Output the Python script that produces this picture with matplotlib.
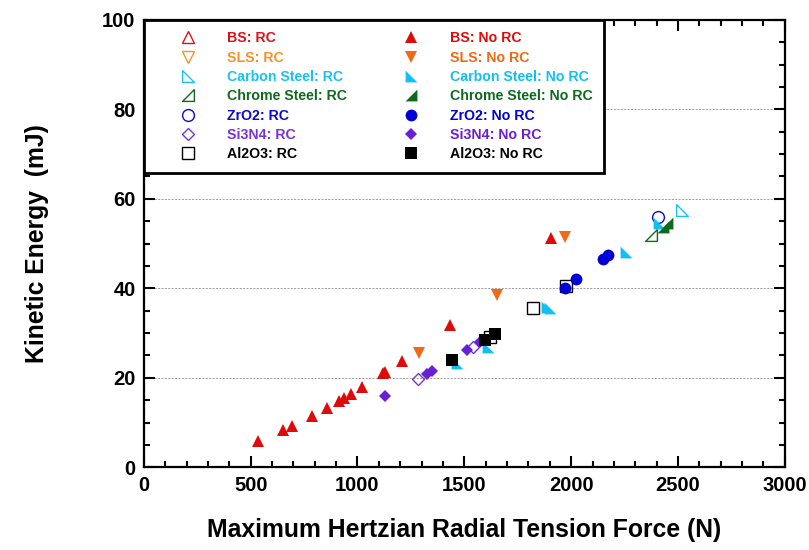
"""Kinetic energy vs. maximum Hertzian radial tension force, per ball material."""

import matplotlib

matplotlib.use("Agg")
import matplotlib.pyplot as plt
from matplotlib.lines import Line2D
from matplotlib.ticker import MultipleLocator

plt.rcParams["font.family"] = ["Liberation Sans", "DejaVu Sans"]
plt.rcParams["font.weight"] = "bold"

# ---- data ----
bs_rc_x, bs_rc_y = [], []
bs_norc_x = [535, 653, 693, 789, 856, 913, 937, 968, 1022, 1118, 1128, 1208, 1434, 1904]
bs_norc_y = [5.9, 8.3, 9.3, 11.5, 13.3, 14.8, 15.4, 16.4, 17.9, 21.0, 21.2, 23.8, 31.8, 51.2]

sls_rc_x, sls_rc_y = [], []
sls_norc_x = [1288, 1654, 1972]
sls_norc_y = [25.6, 38.5, 51.5]

carbon_rc_x = [2517]
carbon_rc_y = [57.5]
carbon_norc_x = [1464, 1612, 1885, 1901, 2259, 2412]
carbon_norc_y = [23.2, 26.9, 35.8, 35.5, 48.0, 54.5]

chrome_rc_x = [2373]
chrome_rc_y = [51.9]
chrome_norc_x = [2428, 2448]
chrome_norc_y = [53.8, 54.6]

zro2_rc_x = [2405]
zro2_rc_y = [56.0]
zro2_norc_x = [1972, 2025, 2147, 2174]
zro2_norc_y = [40.1, 42.0, 46.5, 47.4]

si3n4_rc_x = [1285, 1542]
si3n4_rc_y = [19.7, 26.8]
si3n4_norc_x = [1130, 1324, 1347, 1511, 1573]
si3n4_norc_y = [15.9, 20.8, 21.5, 26.1, 28.1]

al2o3_rc_x = [1620, 1823, 1975]
al2o3_rc_y = [29.1, 35.5, 40.5]
al2o3_norc_x = [1444, 1597, 1643]
al2o3_norc_y = [24.0, 28.4, 29.8]

# right-angle triangles used by the two steels
carbon_marker = [(-1, 1), (-1, -1), (1, -1), (-1, 1)]
chrome_marker = [(1, 1), (1, -1), (-1, -1), (1, 1)]

# (label, x, y, marker, color, size, filled)
rc_series = [
    ("BS: RC", bs_rc_x, bs_rc_y, "^", "#e0101a", 8.5, False),
    ("SLS: RC", sls_rc_x, sls_rc_y, "v", "#f8922c", 8.5, False),
    ("Carbon Steel: RC", carbon_rc_x, carbon_rc_y, carbon_marker, "#18c2f2", 8.5, False),
    ("Chrome Steel: RC", chrome_rc_x, chrome_rc_y, chrome_marker, "#12681e", 8.5, False),
    ("ZrO2: RC", zro2_rc_x, zro2_rc_y, "o", "#0a0ad2", 8.5, False),
    ("Si3N4: RC", si3n4_rc_x, si3n4_rc_y, "D", "#7a32dc", 6.5, False),
    ("Al2O3: RC", al2o3_rc_x, al2o3_rc_y, "s", "#000000", 8.2, False),
]
norc_series = [
    ("BS: No RC", bs_norc_x, bs_norc_y, "^", "#e00a0a", 8.5, True),
    ("SLS: No RC", sls_norc_x, sls_norc_y, "v", "#f26814", 8.5, True),
    ("Carbon Steel: No RC", carbon_norc_x, carbon_norc_y, carbon_marker, "#10c0f2", 8.5, True),
    ("Chrome Steel: No RC", chrome_norc_x, chrome_norc_y, chrome_marker, "#0c6a1c", 8.5, True),
    ("ZrO2: No RC", zro2_norc_x, zro2_norc_y, "o", "#0000d6", 8.5, True),
    ("Si3N4: No RC", si3n4_norc_x, si3n4_norc_y, "D", "#6a1fd6", 6.5, True),
    ("Al2O3: No RC", al2o3_norc_x, al2o3_norc_y, "s", "#000000", 8.2, True),
]

fig = plt.figure(figsize=(8.09, 5.5), dpi=100)
ax = fig.add_axes([0.1778, 0.1504, 0.7923, 0.8136])

handles = []
colors = []
for label, xs, ys, marker, color, ms, filled in rc_series + norc_series:
    style = dict(
        marker=marker,
        linestyle="none",
        markersize=ms,
        markeredgecolor=color,
        markerfacecolor=color if filled else "none",
        markeredgewidth=0 if filled else 1.0,
    )
    ax.plot(xs, ys, zorder=3, **style)
    handles.append(Line2D([], [], label=label, **style))
    colors.append(color)

ax.set_xlim(0, 3000)
ax.set_ylim(0, 100)
ax.xaxis.set_major_locator(MultipleLocator(500))
ax.xaxis.set_minor_locator(MultipleLocator(100))
ax.yaxis.set_major_locator(MultipleLocator(20))
ax.yaxis.set_minor_locator(MultipleLocator(5))
ax.tick_params(which="both", direction="in", top=True, right=True, width=1.5)
ax.tick_params(which="major", length=8, labelsize=14.5, pad=6)
ax.tick_params(which="minor", length=4)
for spine in ax.spines.values():
    spine.set_linewidth(1.6)

ax.yaxis.grid(True, which="major", color="#9a9a9a", linestyle=(0, (2, 1.5)), linewidth=0.7)
ax.set_axisbelow(True)

ax.set_xlabel("Maximum Hertzian Radial Tension Force (N)", fontsize=17.8,
              fontweight="bold", labelpad=17)
ax.set_ylabel("Kinetic Energy  (mJ)", fontsize=17.8, fontweight="bold", labelpad=38)

leg = ax.legend(
    handles=handles,
    ncol=2,
    loc="upper left",
    bbox_to_anchor=(0.0, 1.0),
    borderaxespad=0,
    fontsize=10.2,
    frameon=True,
    fancybox=False,
    framealpha=1,
    edgecolor="black",
    handlelength=4.6,
    handletextpad=0.45,
    labelspacing=0.38,
    columnspacing=2.27,
    borderpad=0.8,
)
leg.get_frame().set_linewidth(2.0)
leg.set_zorder(5)
for text, color in zip(leg.get_texts(), colors):
    text.set_color(color)
    text.set_fontweight("bold")

fig.savefig("out.png", dpi=100)
